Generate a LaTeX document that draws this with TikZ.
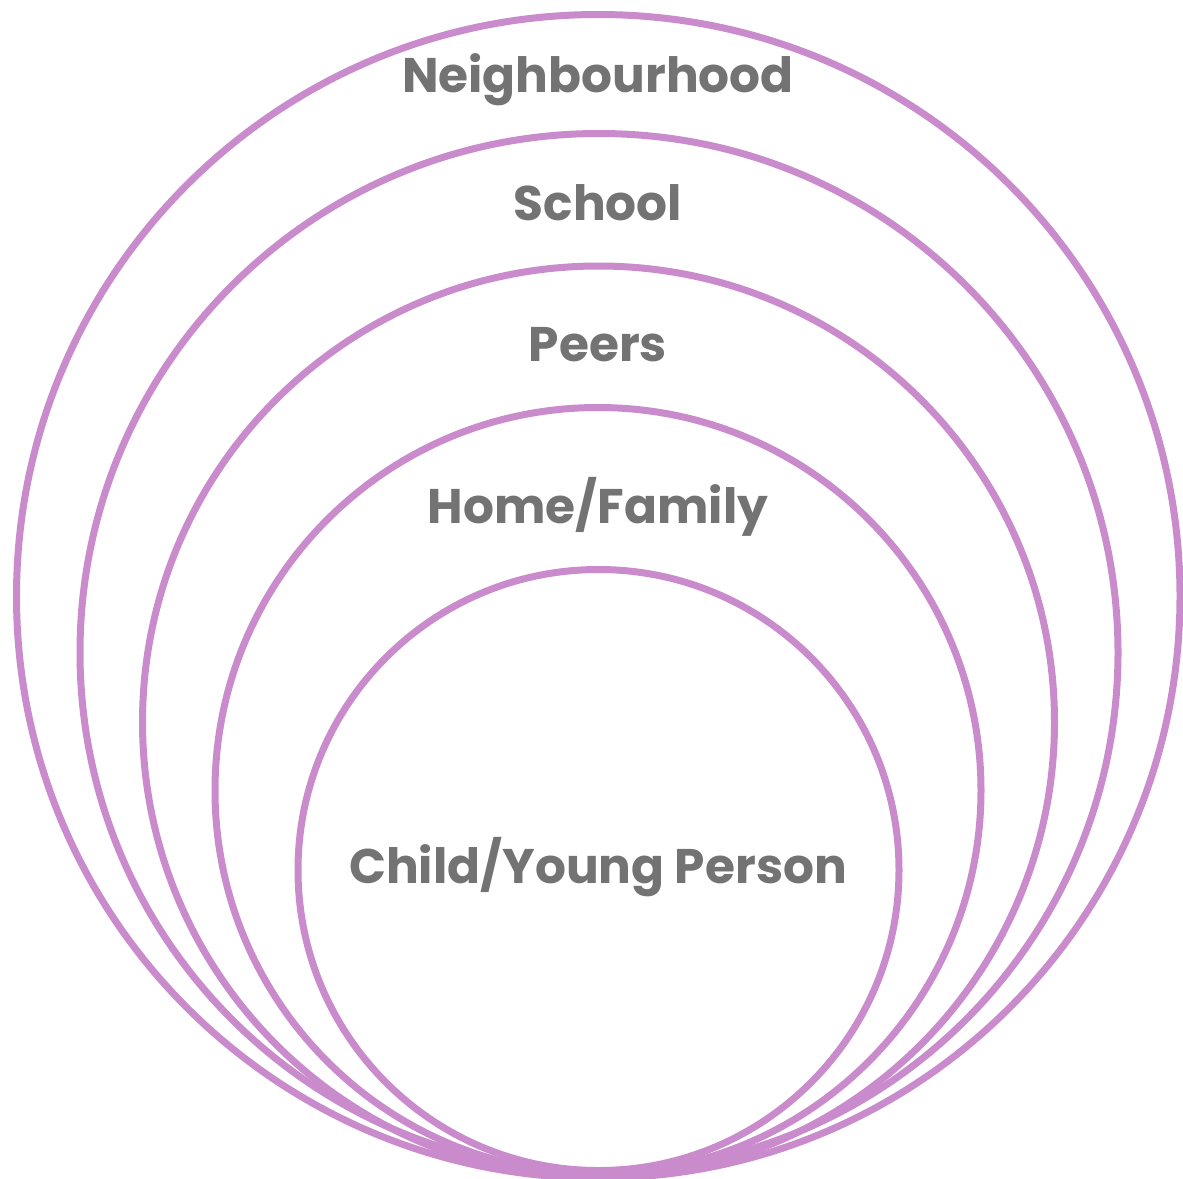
\documentclass[tikz,border=0pt]{standalone}
\usepackage{fontspec}
\setmainfont{Poppins}
\usetikzlibrary{positioning}
\definecolor{ring_pink}{HTML}{C98BCB}
\definecolor{label_grey}{HTML}{737373}

\begin{document}
\begin{tikzpicture}[x=1pt, y=-1pt,
		ring/.style={draw=ring_pink, line width=7pt, circle, inner sep=0pt},
		ring_label/.style={anchor=base, text=label_grey, font=\fontsize{48.6}{56}\selectfont\bfseries, inner sep=0pt}]
				\useasboundingbox (0,0) rectangle (1183,1178);
				\node (neighbourhood_ring) [ring, minimum size=1163.5pt] at (598.25,596.25) {};
				\node (school_ring) [ring, minimum size=1038pt] at (599,652.5) {};
				\node (peers_ring) [ring, minimum size=912pt] at (598.5,722) {};
				\node (home_ring) [ring, minimum size=766pt] at (598,790.5) {};
				\node (child_ring) [ring, minimum size=601pt] at (598.5,870) {};
				\node (neighbourhood_label) [ring_label] at (598,92) {Neighbourhood};
				\node (school_label) [ring_label] at (598,220) {School};
				\node (peers_label) [ring_label] at (598,361) {Peers};
				\node (home_label) [ring_label] at (598,523) {Home/Family};
				\node (child_label) [ring_label] at (598,883) {Child/Young Person};
			\end{tikzpicture}
\end{document}
